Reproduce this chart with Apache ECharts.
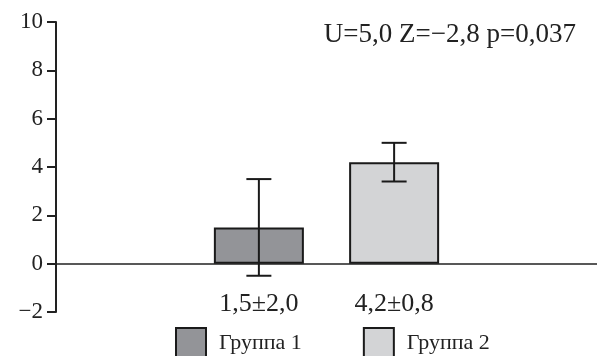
<!DOCTYPE html>
<html><head><meta charset="utf-8">
<script src="https://cdn.jsdelivr.net/npm/echarts@6/dist/echarts.min.js"></script>
<style>html,body{margin:0;padding:0;background:#fff}#c{width:597px;height:356px}</style>
</head><body><div id="c"></div>
<script>
const groups = ['Группа 1', 'Группа 2'];
const means = [1.5, 4.2];
const sds = [2.0, 0.8];
const slots = ['', 'g1', 'g2', ''];      // category slots; groups sit in slots 1 and 2
const groupSlot = [1, 2];
const yTicks = {min: -2, max: 10, interval: 2};
const statText = 'U=5,0 Z=\u22122,8 p=0,037';
const colors = ['#939498', '#d3d4d6'];

const fmt = v => v.toFixed(1).replace('.', ',');
const groupLabels = groups.map((g, i) => fmt(means[i]) + '±' + fmt(sds[i]));

const FONT = '"Liberation Serif", "DejaVu Serif", serif';

const barSeries = groups.map((g, i) => {
  const d = slots.map(() => null);
  d[groupSlot[i]] = means[i];
  return {
    name: g, type: 'bar', data: d, barWidth: 90, barGap: '-100%',
    itemStyle: {color: colors[i], borderColor: '#1a1a1a', borderWidth: 2},
    label: {show: true, position: 'bottom', distance: 28, formatter: () => groupLabels[i],
      fontFamily: FONT, fontSize: 26, color: '#222'},
    z: 2
  };
});

const errData = groups.map((g, i) => [groupSlot[i], means[i] - sds[i], means[i] + sds[i]]);

const chart = echarts.init(document.getElementById('c'));
chart.setOption({
  animation: false,
  title: {text: statText, right: 16, top: 16,
    textStyle: {fontFamily: FONT, fontSize: 27, fontWeight: 'normal', color: '#222'}},
  legend: {
    data: groups, left: 175, top: 327, padding: 0, itemWidth: 30, itemHeight: 30, itemGap: 61,
    icon: 'rect',
    itemStyle: {borderColor: '#1a1a1a', borderWidth: 2},
    textStyle: {fontFamily: FONT, fontSize: 22, color: '#222', padding: [0, 0, 0, 8]}
  },
  grid: {left: 56, right: 0, top: 22, bottom: 44, containLabel: false, outerBoundsMode: 'none'},
  xAxis: {
    type: 'category', data: slots,
    axisLine: {onZero: true, lineStyle: {color: '#222', width: 1.5}},
    axisTick: {show: false},
    axisLabel: {show: false}
  },
  yAxis: {
    type: 'value', min: yTicks.min, max: yTicks.max, interval: yTicks.interval,
    splitLine: {show: false},
    axisLine: {show: true, lineStyle: {color: '#222', width: 2}},
    axisTick: {show: true, length: 9, lineStyle: {color: '#222', width: 2}},
    axisLabel: {margin: 13, fontFamily: FONT, fontSize: 23, color: '#222',
      formatter: v => (v < 0 ? '\u2212' + Math.abs(v) : String(v))}
  },
  series: [
    ...barSeries,
    {
      type: 'custom', data: errData, z: 5,
      renderItem: (params, api) => {
        const x = api.value(0);
        const lo = api.coord([x, api.value(1)]);
        const hi = api.coord([x, api.value(2)]);
        const w = 12.5;
        const st = {stroke: '#1a1a1a', lineWidth: 2};
        return {type: 'group', children: [
          {type: 'line', shape: {x1: hi[0], y1: hi[1], x2: lo[0], y2: lo[1]}, style: st},
          {type: 'line', shape: {x1: hi[0] - w, y1: hi[1], x2: hi[0] + w, y2: hi[1]}, style: st},
          {type: 'line', shape: {x1: lo[0] - w, y1: lo[1], x2: lo[0] + w, y2: lo[1]}, style: st}
        ]};
      }
    }
  ]
});
</script></body></html>
